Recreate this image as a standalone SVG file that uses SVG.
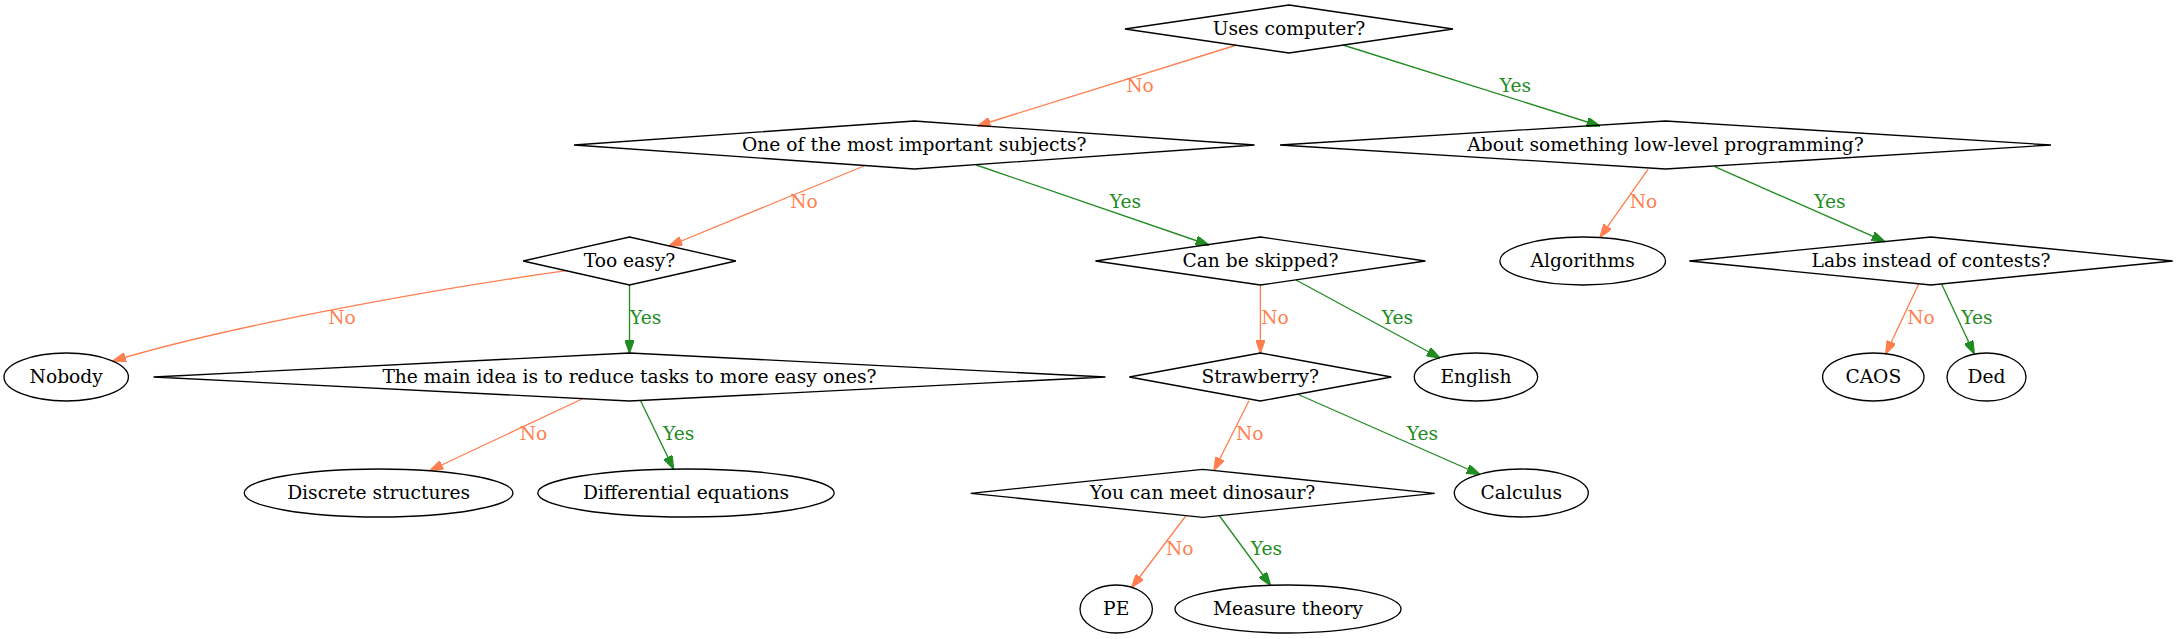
<svg xmlns="http://www.w3.org/2000/svg" width="2178" height="639" viewBox="0 0 2178 639">
<style>
.n polygon,.n ellipse{fill:none;stroke:#000;stroke-width:1.33}
.n text{font-family:"DejaVu Serif",serif;font-size:18.67px;text-anchor:middle;fill:#000}
.e path{fill:none;stroke-width:1.33}
.no path{stroke:#ff7f50;marker-end:url(#ano)}
.yes path{stroke:#228b22;marker-end:url(#ayes)}
.e text{font-family:"DejaVu Serif",serif;font-size:18.67px;text-anchor:middle}
.no text{fill:#ff7f50}
.yes text{fill:#228b22}
</style>
<defs>
<marker id="ano" viewBox="0 0 10 7" refX="10" refY="3.5" markerWidth="13.33" markerHeight="9.33" markerUnits="userSpaceOnUse" orient="auto"><path d="M0,0 L10,3.5 L0,7 z" fill="#ff7f50" stroke="#ff7f50" stroke-width="1"/></marker>
<marker id="ayes" viewBox="0 0 10 7" refX="10" refY="3.5" markerWidth="13.33" markerHeight="9.33" markerUnits="userSpaceOnUse" orient="auto"><path d="M0,0 L10,3.5 L0,7 z" fill="#228b22" stroke="#228b22" stroke-width="1"/></marker>
</defs>
<rect width="2178" height="639" fill="#fff"/>
<g id="connectors" class="e">
<g class="no"><path d="M1236.7,45 L977.3,126"/><text x="1140" y="91.7">No</text></g>
<g class="yes"><path d="M1343,45 L1600,126"/><text x="1515.5" y="91.7">Yes</text></g>
<g class="no"><path d="M864,166 L669,246"/><text x="804" y="207.7">No</text></g>
<g class="yes"><path d="M976.3,165 L1209,245"/><text x="1125.5" y="207.7">Yes</text></g>
<g class="no"><path d="M1648,169.3 L1600,237.3"/><text x="1643.5" y="207.5">No</text></g>
<g class="yes"><path d="M1714.7,166.7 L1885,241.7"/><text x="1830" y="207.5">Yes</text></g>
<g class="no"><path d="M566.4,270.7 C470,284 245,321 112.7,361"/><text x="342" y="323.5">No</text></g>
<g class="yes"><path d="M629.5,285 L629.5,353"/><text x="645.7" y="323.5">Yes</text></g>
<g class="no"><path d="M1260.4,285 L1260.4,353"/><text x="1275" y="323.5">No</text></g>
<g class="yes"><path d="M1296,280 L1440,358"/><text x="1397.4" y="323.5">Yes</text></g>
<g class="no"><path d="M1918.7,284 L1885.7,354"/><text x="1921" y="324">No</text></g>
<g class="yes"><path d="M1941.7,284.3 L1974.3,354"/><text x="1977" y="324">Yes</text></g>
<g class="no"><path d="M582,399 L430,470.5"/><text x="533.5" y="439.5">No</text></g>
<g class="yes"><path d="M640.7,401 L673.6,469"/><text x="678.6" y="439.5">Yes</text></g>
<g class="no"><path d="M1249,400.7 L1214,470.5"/><text x="1249.7" y="440">No</text></g>
<g class="yes"><path d="M1298.3,394.5 L1480,474.5"/><text x="1422.5" y="440">Yes</text></g>
<g class="no"><path d="M1185.7,516 L1131.7,587.5"/><text x="1179.7" y="555">No</text></g>
<g class="yes"><path d="M1219.6,516 L1270.7,585.5"/><text x="1266.5" y="555">Yes</text></g>
</g>
<g id="uses" class="n"><polygon points="1289,5 1453,29 1289,53 1125,29"/><text x="1289" y="34.6">Uses computer?</text></g>
<g id="important" class="n"><polygon points="914.3,121 1254.6,145 914.3,169 574,145"/><text x="914.3" y="150.6">One of the most important subjects?</text></g>
<g id="lowlevel" class="n"><polygon points="1665.5,121 2051,145 1665.5,169 1280,145"/><text x="1665.5" y="150.6">About something low-level programming?</text></g>
<g id="tooeasy" class="n"><polygon points="629.5,237 735.9,261 629.5,285 523.1,261"/><text x="629.5" y="266.6">Too easy?</text></g>
<g id="skipped" class="n"><polygon points="1260.4,237 1425.4,261 1260.4,285 1095.4,261"/><text x="1260.4" y="266.6">Can be skipped?</text></g>
<g id="algorithms" class="n"><ellipse cx="1582.7" cy="261" rx="82.8" ry="24"/><text x="1582.7" y="266.6">Algorithms</text></g>
<g id="labs" class="n"><polygon points="1931,237 2172.7,261 1931,285 1689.3,261"/><text x="1931" y="266.6">Labs instead of contests?</text></g>
<g id="nobody" class="n"><ellipse cx="66.2" cy="377" rx="62.2" ry="24"/><text x="66.2" y="382.6">Nobody</text></g>
<g id="mainidea" class="n"><polygon points="629.5,353 1105.5,377 629.5,401 153.5,377"/><text x="629.5" y="382.6">The main idea is to reduce tasks to more easy ones?</text></g>
<g id="strawberry" class="n"><polygon points="1260.3,353 1391.3,377 1260.3,401 1129.3,377"/><text x="1260.3" y="382.6">Strawberry?</text></g>
<g id="english" class="n"><ellipse cx="1476" cy="377" rx="61.7" ry="24"/><text x="1476" y="382.6">English</text></g>
<g id="caos" class="n"><ellipse cx="1873.3" cy="377" rx="50.7" ry="24"/><text x="1873.3" y="382.6">CAOS</text></g>
<g id="ded" class="n"><ellipse cx="1986.5" cy="377" rx="39.5" ry="24"/><text x="1986.5" y="382.6">Ded</text></g>
<g id="discrete" class="n"><ellipse cx="378.6" cy="493" rx="134.3" ry="24"/><text x="378.6" y="498.6">Discrete structures</text></g>
<g id="differential" class="n"><ellipse cx="686" cy="493" rx="148.2" ry="24"/><text x="686" y="498.6">Differential equations</text></g>
<g id="dinosaur" class="n"><polygon points="1202.7,469.3 1434.7,493.3 1202.7,517.3 970.7,493.3"/><text x="1202.7" y="498.9">You can meet dinosaur?</text></g>
<g id="calculus" class="n"><ellipse cx="1521.3" cy="493" rx="67" ry="24"/><text x="1521.3" y="498.6">Calculus</text></g>
<g id="pe" class="n"><ellipse cx="1116.2" cy="609" rx="36.2" ry="24"/><text x="1116.2" y="614.6">PE</text></g>
<g id="measure" class="n"><ellipse cx="1288" cy="609" rx="113" ry="24"/><text x="1288" y="614.6">Measure theory</text></g>
</svg>
